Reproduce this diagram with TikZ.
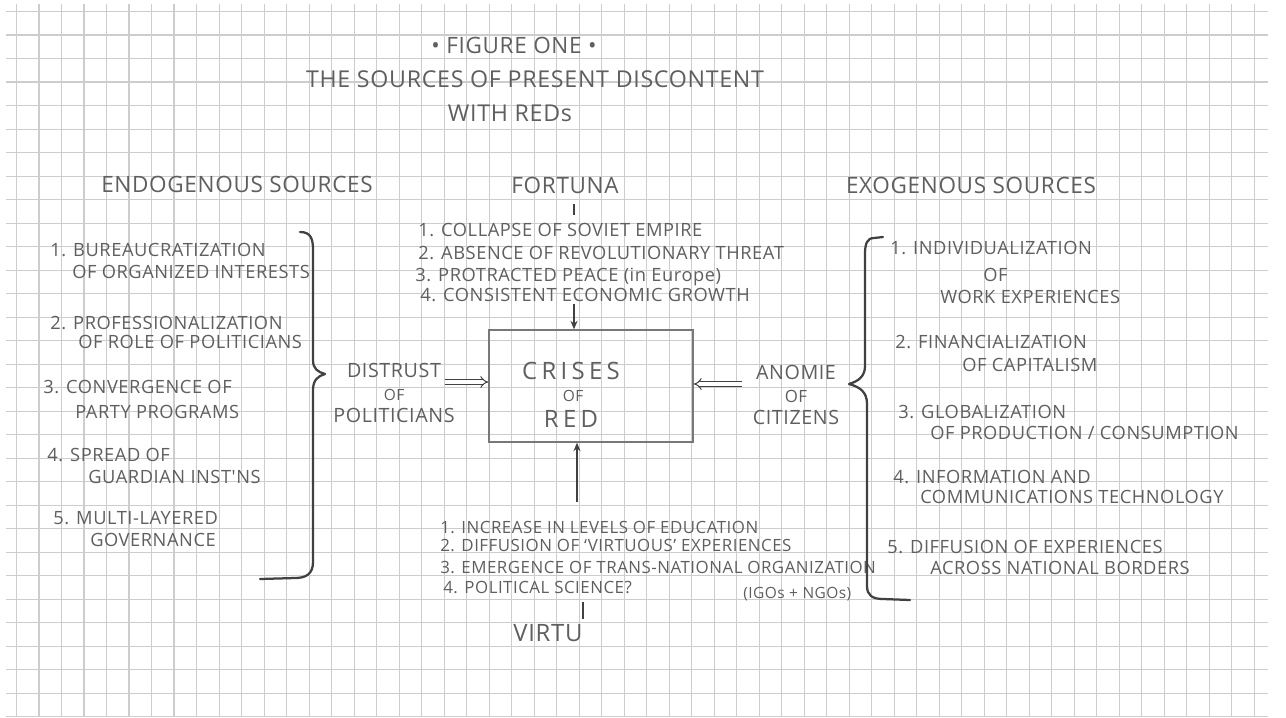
\documentclass[tikz,border=0pt]{standalone}
\usepackage{fontspec}
\newfontfamily\hand[LetterSpace=3]{Open Sans}
\newfontfamily\handwide[LetterSpace=18]{Open Sans}
\usetikzlibrary{arrows.meta, positioning, calc}
\definecolor{pencil}{RGB}{95,95,95}
\definecolor{lead}{RGB}{65,65,65}
\definecolor{boxgray}{RGB}{120,120,120}
\definecolor{gridc}{RGB}{205,205,205}
\tikzset{
    hand/.style={inner sep=0pt, text=pencil},
    item/.style={hand, anchor=base west, font=\hand\fontsize{13}{15}\selectfont},
    small/.style={hand, anchor=base west, font=\hand\fontsize{12}{14}\selectfont},
    head/.style={hand, anchor=base, font=\hand\fontsize{16}{19}\selectfont},
    mid/.style={hand, align=center, font=\hand\fontsize{14}{17}\selectfont},
    box/.style={draw=boxgray, line width=1pt, minimum width=5.1cm, minimum height=2.8cm, inner sep=0pt},
    trans/.style={-{Stealth[length=6pt, width=5pt]}, lead, line width=1pt},
    dbl/.style={-{Implies}, lead, double, double distance=2.2pt, line width=0.7pt},
    tick/.style={lead, line width=1pt},
    brace/.style={lead, line width=1.6pt, line cap=round, line join=round},
    gridline/.style={gridc, line width=1pt}
}

\begin{document}
\begin{tikzpicture}[x=0.025cm, y=-0.025cm]
    \useasboundingbox (0,0) rectangle (1286,717);
    % Papel cuadriculado
    \fill[white] (0,0) rectangle (1286,717);
    \foreach \i in {0,...,55}
        \draw[gridline] ({16.7+22.5*\i},4) -- ({16.7+22.5*\i},717);
    \foreach \j in {0,...,30}
        \draw[gridline] (6,{11.7+23.5*\j}) -- (1268,{11.7+23.5*\j});

    % Titulo
    \node[head, font=\hand\fontsize{16}{19}\selectfont] (fig) at (514,53) {\textbullet\ FIGURE ONE \textbullet};
    \node[head, font=\hand\fontsize{16.5}{19}\selectfont] (title) at (535,87) {THE SOURCES OF PRESENT DISCONTENT};
    \node[head, font=\hand\fontsize{16.5}{19}\selectfont] (title2) at (510,121) {WITH REDs};

    % Columnas
    \node[head] (endo) at (237,192) {ENDOGENOUS SOURCES};
    \node[head] (fortuna) at (565,193) {FORTUNA};
    \node[head] (exo) at (971,193) {EXOGENOUS SOURCES};

    % Fortuna
    \foreach \x/\y/\t [count=\k] in {418/230/{1. COLLAPSE OF SOVIET EMPIRE},
        418/253/{2. ABSENCE OF REVOLUTIONARY THREAT},
        415/275/{3. PROTRACTED PEACE (in Europe)},
        420/295/{4. CONSISTENT ECONOMIC GROWTH}}
        \node[item] (fort\k) at (\x,{\y+6.5}) {\t};

    % Fuentes endogenas
    \foreach \x/\y/\t [count=\k] in {50/250/{1. BUREAUCRATIZATION},
        72/272/{OF ORGANIZED INTERESTS},
        50/323/{2. PROFESSIONALIZATION},
        78/342/{OF ROLE OF POLITICIANS},
        43/387/{3. CONVERGENCE OF},
        75/412/{PARTY PROGRAMS},
        47/455/{4. SPREAD OF},
        88/477/{GUARDIAN INST'NS},
        53/518/{5. MULTI-LAYERED},
        90/540/{GOVERNANCE}}
        \node[item] (endo\k) at (\x,{\y+6.5}) {\t};

    % Fuentes exogenas
    \foreach \x/\y/\t [count=\k] in {890/248/{1. INDIVIDUALIZATION},
        983/275/{OF},
        940/297/{WORK EXPERIENCES},
        895/342/{2. FINANCIALIZATION},
        962/365/{OF CAPITALISM},
        898/412/{3. GLOBALIZATION},
        930/433/{OF PRODUCTION / CONSUMPTION},
        893/477/{4. INFORMATION AND},
        920/497/{COMMUNICATIONS TECHNOLOGY},
        887/547/{5. DIFFUSION OF EXPERIENCES},
        930/568/{ACROSS NATIONAL BORDERS}}
        \node[item] (exo\k) at (\x,{\y+6.5}) {\t};

    % Virtu
    \foreach \x/\y/\t [count=\k] in {440/527/{1. INCREASE IN LEVELS OF EDUCATION},
        440/545/{2. DIFFUSION OF ‘VIRTUOUS’ EXPERIENCES},
        440/567/{3. EMERGENCE OF TRANS-NATIONAL ORGANIZATION},
        443/587/{4. POLITICAL SCIENCE?}}
        \node[small] (edu\k) at (\x,{\y+6}) {\t};
    \node[small, font=\hand\fontsize{11}{13}\selectfont] (igos) at (743,598) {(IGOs + NGOs)};
    \node[head, font=\hand\fontsize{17}{20}\selectfont] (virtu) at (548,641) {VIRTU};

    % Crisis
    \node[box] (crises) at (591,386) {};
    \node[hand, anchor=base, font=\handwide\fontsize{17}{20}\selectfont] (cr1) at (571,379) {CRISES};
    \node[hand, anchor=base, font=\hand\fontsize{11}{13}\selectfont] (cr2) at (573,401) {OF};
    \node[hand, anchor=base, font=\handwide\fontsize{17}{20}\selectfont] (cr3) at (571,427) {RED};

    \node[mid] (distrust) at (394,393) {DISTRUST\\[-1pt]{\fontsize{11}{13}\selectfont OF}\\[-1pt]POLITICIANS};
    \node[mid] (anomie) at (796,395) {ANOMIE\\[-1pt]{\fontsize{12}{13}\selectfont OF}\\[-1pt]CITIZENS};

    % Flechas
    \coordinate (fx) at (574,0);
    \coordinate (vx) at (577,0);
    \coordinate (vt) at (583,0);
    \draw[tick, shorten <=0.25cm, shorten >=0.2cm] (fx |- fortuna.south) -- (fx |- fort1.north);
    \draw[trans, shorten <=0.05cm] (fx |- fort4.south) -- (fx |- crises.north);
    \draw[trans, shorten <=0.45cm] (vx |- edu1.north) -- (vx |- crises.south);
    \draw[tick, shorten <=0.12cm, shorten >=0.2cm] (vt |- virtu.north) -- (vt |- edu4.south);

    \coordinate (dstart) at ([shift={(-10,-11)}]distrust.east);
    \coordinate (astart) at ([shift={(-11,-11)}]anomie.west);
    \draw[dbl] (dstart) -- (dstart -| crises.west);
    \draw[dbl] (astart) -- (astart -| crises.east);

    % Llaves
    \draw[brace] (300,232) .. controls (311,232) and (313,239) .. (313,250)
        -- (313,360) .. controls (313,369) and (318,372) .. (325,374)
        .. controls (318,376) and (313,380) .. (313,390)
        -- (313,562) .. controls (313,574) and (306,578) .. (295,578) -- (260,579);
    \draw[brace] (883,237) -- (874,238) .. controls (867,238) and (865,244) .. (865,254)
        -- (865,366) .. controls (865,376) and (859,381) .. (849,384)
        .. controls (860,387) and (867,392) .. (867,404)
        -- (867,586) .. controls (867,595) and (872,599) .. (883,599) -- (910,600);
\end{tikzpicture}
\end{document}
